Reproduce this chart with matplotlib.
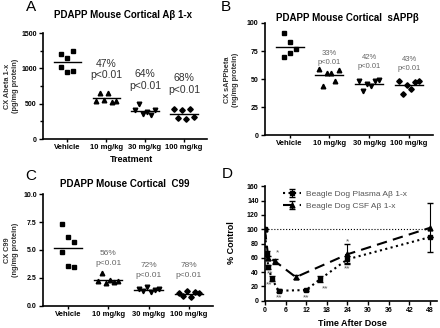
import numpy as np
import matplotlib
matplotlib.use('Agg')
import matplotlib.pyplot as plt

plt.rcParams['font.family'] = ['Liberation Sans', 'DejaVu Sans']

# Treatment groups (mouse cortex)
groups = ['Vehicle', '10 mg/kg', '30 mg/kg', '100 mg/kg']

# A: Abeta 1-x (pg/mg protein)
abeta = [[1198, 1150, 1245, 1014, 952, 966],
         [535, 650, 560, 655, 530, 545],
         [415, 500, 350, 390, 340, 405],
         [420, 300, 410, 285, 425, 310]]
abeta_notes = ['47%\np<0.01', '64%\np<0.01', '68%\np<0.01']

# B: sAPPbeta (ng/mg protein)
sappb = [[91, 83, 77, 70, 73],
         [59, 44, 55, 55, 48, 58],
         [48, 39, 46, 44, 48, 49],
         [48, 37, 45, 41, 47, 48]]
sappb_notes = ['33%\np<0.01', '42%\np<0.01', '43%\np<0.01']

# C: C99 (ng/mg protein)
c99 = [[7.3, 6.2, 5.7, 4.8, 3.6, 3.5],
       [2.2, 2.9, 2.0, 2.3, 2.1, 2.2],
       [1.5, 1.3, 1.7, 1.2, 1.4, 1.5],
       [1.1, 0.9, 1.3, 0.8, 1.2, 1.1]]
c99_notes = ['56%\np<0.01', '72%\np<0.01', '78%\np<0.01']

# D: beagle dog time course (% control)
plasma_t = [0, 0.5, 1, 2, 4, 12, 16, 24, 48]
plasma = [100, 66, 47, 31, 14, 15, 30, 58, 89]
plasma_err = [0, 3, 3, 3, 2, 2, 4, 5, 0]
csf_t = [0, 1, 3, 9, 24, 48]
csf = [100, 60, 55, 33, 65, 102]
csf_err = [0, 3, 3, 3, 14, 34]
stars = [('*', 3.6, 67), ('**', 1.5, 37), ('**', 1.2, 22), ('**', 4, 4),
         ('**', 12, 4), ('**', 17.5, 17), ('*', 24, 83), ('**', 24, 44)]

markers = ['s', '^', 'v', 'D']
tick_kw = dict(width=1, length=3, direction='out', pad=1.5)


def scatter_panel(ax, data, ylim, yticks, minor=None):
    for i, vals in enumerate(data):
        n = len(vals)
        if i == 0:
            offs = np.tile([-0.15, 0.0, 0.15], 2)[:n]
        else:
            offs = np.linspace(-0.25, 0.25, n)
        ms = 2.8 if markers[i] == 'D' else 3.3
        ax.plot(i + offs, vals, markers[i], color='black', ms=ms, ls='none')
        m = np.mean(vals)
        ax.plot([i - 0.35, i + 0.35], [m, m], color='black', lw=1)
    ax.set_xlim(-0.62, 3.6)
    ax.set_ylim(*ylim)
    ax.set_yticks(yticks)
    if minor is not None:
        ax.set_yticks(minor, minor=True)
        ax.tick_params(axis='y', which='minor', length=2, width=1)
    ax.set_xticks(range(4))
    ax.set_xticklabels(groups, fontweight='bold')
    for lab in ax.get_yticklabels():
        lab.set_fontweight('bold')
    ax.tick_params(**tick_kw)
    ax.tick_params(axis='x', length=2, labelsize=5.5)
    ax.tick_params(axis='y', labelsize=5)
    for s in ['top', 'right']:
        ax.spines[s].set_visible(False)
    for s in ['left', 'bottom']:
        ax.spines[s].set_linewidth(1.2)


fig = plt.figure(figsize=(4.4, 3.28), dpi=100)

# Panel A
axA = fig.add_axes([0.098, 0.576, 0.373, 0.323])
scatter_panel(axA, abeta, (0, 1500), [0, 500, 1000, 1500],
              minor=np.arange(0, 1501, 250))
axA.set_yticklabels(['0', '500', '1000', '1500'], fontweight='bold')
note_y = [830, 680, 630]
for i, txt in enumerate(abeta_notes):
    axA.text(i + 1, note_y[i], txt, ha='center', va='bottom', fontsize=7.5,
             color='#333333', linespacing=1.2)
fig.text(0.30, 0.515, 'Treatment', ha='center', va='center',
         fontsize=6.5, fontweight='bold')
fig.text(0.027, 0.738, 'CX Abeta 1-x\n(pg/mg protein)', rotation=90,
         ha='center', va='center', fontsize=5.3, fontweight='bold',
         color='#333333')
fig.text(0.28, 0.955, 'PDAPP Mouse Cortical Aβ 1-x', ha='center',
         va='center', fontsize=7, fontweight='bold')
fig.text(0.07, 0.978, 'A', ha='center', va='center', fontsize=11)

# Panel B
axB = fig.add_axes([0.602, 0.588, 0.382, 0.342])
scatter_panel(axB, sappb, (0, 100), [0, 25, 50, 75, 100])
note_y = [62, 58, 56]
for i, txt in enumerate(sappb_notes):
    axB.text(i + 1, note_y[i], txt, ha='center', va='bottom',
             fontsize=5.5, color='#666666', linespacing=1.4)
fig.text(0.527, 0.756, 'CX sAPPbeta\n(ng/mg protein)', rotation=90,
         ha='center', va='center', fontsize=5.3, fontweight='bold',
         color='#333333')
fig.text(0.79, 0.945, 'PDAPP Mouse Cortical  sAPPβ', ha='center',
         va='center', fontsize=7, fontweight='bold')
fig.text(0.514, 0.978, 'B', ha='center', va='center', fontsize=11)

# Panel C
axC = fig.add_axes([0.098, 0.068, 0.386, 0.340])
scatter_panel(axC, c99, (0, 10), [0, 2.5, 5, 7.5, 10])
axC.set_yticklabels(['0.0', '2.5', '5.0', '7.5', '10.0'], fontweight='bold')
note_y = [3.5, 2.4, 2.4]
for i, txt in enumerate(c99_notes):
    axC.text(i + 1, note_y[i], txt, ha='center', va='bottom',
             fontsize=6, color='#666666', linespacing=1.5)
fig.text(0.027, 0.238, 'CX C99\n(ng/mg protein)', rotation=90,
         ha='center', va='center', fontsize=5.3, fontweight='bold',
         color='#333333')
fig.text(0.284, 0.439, 'PDAPP Mouse Cortical  C99', ha='center',
         va='center', fontsize=7, fontweight='bold')
fig.text(0.07, 0.462, 'C', ha='center', va='center', fontsize=11)

# Panel D
axD = fig.add_axes([0.602, 0.083, 0.391, 0.349])
axD.axhline(100, color='black', lw=0.8, ls=':', xmax=48 / 50)
axD.errorbar(plasma_t, plasma, yerr=plasma_err, color='black', ls=':',
             lw=1.5, marker='s', ms=3.5, capsize=2, elinewidth=0.8,
             label='Beagle Dog Plasma Aβ 1-x')
axD.errorbar(csf_t, csf, yerr=csf_err, color='black', ls=(0, (5, 3)),
             lw=1.5, marker='^', ms=3.5, capsize=2, elinewidth=0.8,
             label='Beagle Dog CSF Aβ 1-x')
for txt, x, y in stars:
    axD.text(x, y, txt, ha='center', va='center', fontsize=6,
             color='#555555')
axD.set_xlim(0, 50)
axD.set_ylim(0, 160)
axD.set_xticks(np.arange(0, 49, 6))
axD.set_yticks(np.arange(0, 161, 20))
for lab in axD.get_xticklabels() + axD.get_yticklabels():
    lab.set_fontweight('bold')
axD.tick_params(labelsize=5, **tick_kw)
for s in ['top', 'right']:
    axD.spines[s].set_visible(False)
for s in ['left', 'bottom']:
    axD.spines[s].set_linewidth(1.2)
leg = axD.legend(loc='upper left', bbox_to_anchor=(0.06, 1.03),
                 frameon=False, fontsize=6, handlelength=2.2,
                 labelspacing=0.5, handletextpad=0.6)
for t in leg.get_texts():
    t.set_color('#555555')
fig.text(0.527, 0.26, '% Control', rotation=90, ha='center', va='center',
         fontsize=6.5, fontweight='bold')
fig.text(0.80, 0.014, 'Time After Dose', ha='center', va='center',
         fontsize=6.5, fontweight='bold')
fig.text(0.517, 0.471, 'D', ha='center', va='center', fontsize=11)

plt.savefig('out.png', dpi=100)
